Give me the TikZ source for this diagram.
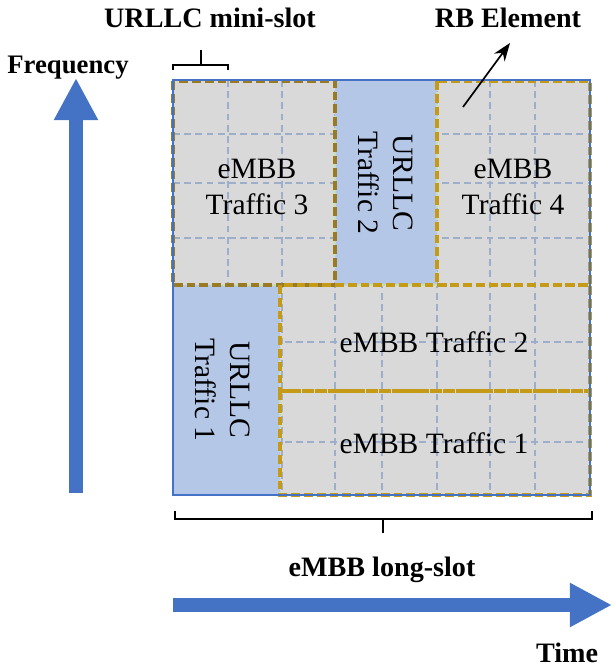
\documentclass[tikz,border=0pt]{standalone}
\usepackage{fontspec}
\setmainfont{Liberation Serif}
\usetikzlibrary{arrows.meta}
\definecolor{cellgray}{HTML}{D9D9D9}
\definecolor{urllcblue}{HTML}{B4C7E7}
\definecolor{gridblue}{HTML}{9DAECB}
\definecolor{embbgold}{HTML}{C49A16}
\definecolor{embbdark}{HTML}{9A7A22}
\definecolor{urllcgreen}{HTML}{C5E0B4}
\definecolor{axisblue}{HTML}{4472C4}
\tikzset{
  grid/.style={draw=gridblue,line width=1.9pt,dash pattern=on 0.17cm off 0.11cm},
  embbedge/.style={draw=embbgold,line width=2.8pt,dash pattern=on 0.22cm off 0.1cm},
  urllcedge/.style={draw=urllcgreen,line width=1.8pt,dash pattern=on 0.2cm off 0.1cm},
  axis/.style={draw=axisblue,line width=0.34cm,-{Triangle[width=1.03cm,length=1.05cm]}},
  bracket/.style={draw=black,line width=1.3pt},
  title/.style={font=\fontsize{20}{24}\selectfont\bfseries,anchor=base,inner sep=0pt}
}
\begin{document}
\begin{tikzpicture}[x=0.025cm,y=-0.025cm,line width=.35pt,font=\fontsize{21}{25}\selectfont]
\useasboundingbox (0,0) rectangle (612,669);
% resource grid
\fill[cellgray] (173,80) rectangle (590,495);
\foreach \x in {228,282,335,382,437,490,535} \draw[grid] (\x,80)--(\x,495);
\foreach \y in {134,183,238,342,442} \draw[grid] (173,\y)--(590,\y);
\fill[urllcblue] (335,80) rectangle (437,285) (173,285) rectangle (280,495);
\draw[urllcedge] (335,80) rectangle (437,285) (173,285) rectangle (280,495);
\draw[embbedge,draw=embbdark] (173,81) rectangle (335,285);
\draw[embbedge] (437,81) rectangle (590,285) (280,285) rectangle (590,391) (280,391) rectangle (590,495);
\draw[axisblue,line width=1pt] (173,80) rectangle (590,495);
% traffic labels
\node[align=center] (embb3) at (257,187) {eMBB\\Traffic 3};
\node[align=center] (embb4) at (513,187) {eMBB\\Traffic 4};
\node[align=center,rotate=-90] (urllc2) at (386,183) {URLLC\\Traffic 2};
\node[align=center,rotate=-90] (urllc1) at (223,390) {URLLC\\Traffic 1};
\node (embb2) at (434,342) {eMBB Traffic 2};
\node (embb1) at (434,443) {eMBB Traffic 1};
% brackets
\draw[bracket] (173,70)--(173,65)--(228,65)--(228,70) (201,65)--(201,50);
\draw[bracket] (175,511)--(175,519)--(592,519)--(592,511) (383,519)--(383,533);
% axes
\coordinate (f0) at (76,493);
\coordinate (f1) at (76,78);
\coordinate (t0) at (173,605);
\coordinate (t1) at (612,605);
\draw[axis] (f0)--(f1);
\draw[axis] (t0)--(t1);
% titles
\node[title] (mini) at (210,28) {URLLC mini-slot};
\node[title,font=\fontsize{19}{24}\selectfont\bfseries] (freq) at (68,74) {Frequency};
\node[title] (rbl) at (508,28) {RB Element};
\node[title] (long) at (382,576) {eMBB long-slot};
\node[title] (time) at (567,662) {Time};
\coordinate (rbcell) at (463,107);
\coordinate (rbtip) at (510,43);
\draw[line width=1.2pt,-{Stealth[length=0.45cm,width=0.33cm]}] (rbcell)--(rbtip);
\end{tikzpicture}
\end{document}
